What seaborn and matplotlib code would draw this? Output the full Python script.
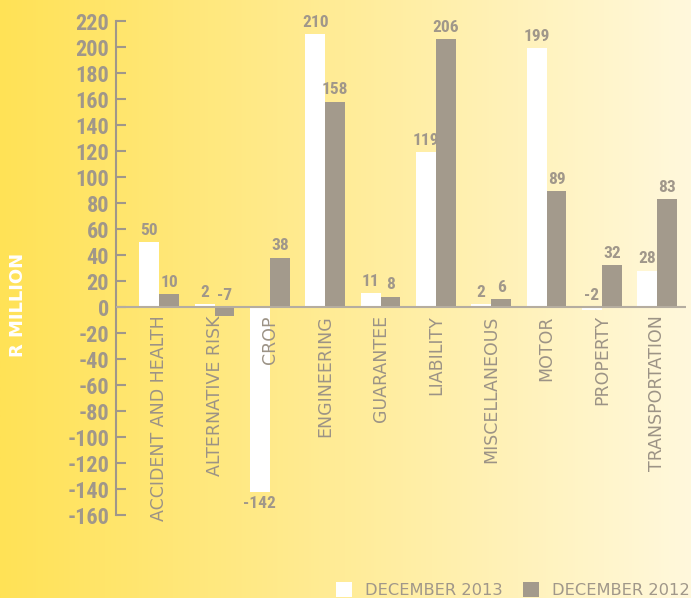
import numpy as np
import pandas as pd
import matplotlib
matplotlib.use("Agg")
import matplotlib.pyplot as plt
import seaborn as sns
from matplotlib.colors import LinearSegmentedColormap
from matplotlib.patches import Patch

# Underwriting results by class of business, R million
categories = ["ACCIDENT AND HEALTH", "ALTERNATIVE RISK", "CROP", "ENGINEERING",
              "GUARANTEE", "LIABILITY", "MISCELLANEOUS", "MOTOR", "PROPERTY",
              "TRANSPORTATION"]
dec_2013 = [50, 2, -142, 210, 11, 119, 2, 199, -2, 28]
dec_2012 = [10, -7, 38, 158, 8, 206, 6, 89, 32, 83]
series = ["DECEMBER 2013", "DECEMBER 2012"]
y_ticks = list(range(-160, 221, 20))

df = pd.DataFrame({
    "category": categories * 2,
    "period": [series[0]] * len(categories) + [series[1]] * len(categories),
    "value": dec_2013 + dec_2012,
})

sns.set_theme(style="white")
plt.rcParams["font.family"] = ["DejaVu Sans"]
plt.rcParams["axes.unicode_minus"] = False

GREY = "#A0978A"
TAUPE = "#A39A8C"
num_font = ["Roboto Condensed", "DejaVu Sans Condensed", "Liberation Sans Narrow",
            "Roboto"]

fig = plt.figure(figsize=(6.91, 5.98), dpi=100)

# warm yellow background, fading to cream on the right
bg = fig.add_axes([0, 0, 1, 1], zorder=-10)
cmap = LinearSegmentedColormap.from_list("warm", ["#FFE256", "#FFEC98", "#FFF8DC"])
bg.imshow(np.linspace(0, 1, 256)[None, :], aspect="auto", cmap=cmap,
          extent=[0, 1, 0, 1])
bg.set_axis_off()

ax = fig.add_axes([116 / 691, 1 - 515 / 598, 570 / 691, 494 / 598])
ax.patch.set_alpha(0)

sns.barplot(data=df, x="category", y="value", hue="period", order=categories,
            hue_order=series, palette=["#FFFFFF", TAUPE], width=0.72,
            saturation=1, legend=False, ax=ax, zorder=2, linewidth=0)

ax.set_xlim(-0.78, 9.52)
ax.set_ylim(-160, 220)
ax.set_yticks(y_ticks)
ax.set_yticklabels([str(t) for t in y_ticks], fontfamily=num_font,
                   fontweight="bold", fontsize=16, color=GREY)
ax.tick_params(axis="y", direction="in", length=7, width=1.5, color=GREY, pad=5,
               left=True)
ax.set_xticks([])
ax.set_xlabel("")
ax.set_ylabel("")
for side in ["top", "right", "bottom"]:
    ax.spines[side].set_visible(False)
ax.spines["left"].set_color(GREY)
ax.spines["left"].set_linewidth(1.5)
ax.axhline(0, color="#B5ADA0", lw=1.5, zorder=3)

# value labels
offsets = [-0.18, 0.18]
for vals, off in zip([dec_2013, dec_2012], offsets):
    for i, v in enumerate(vals):
        if v < -10:
            ax.annotate(str(v), (i + off, v), xytext=(0, -3),
                        textcoords="offset points", ha="center", va="top",
                        fontfamily=num_font, fontweight="bold", fontsize=12.5,
                        color=GREY, annotation_clip=False)
        else:
            ax.annotate(str(v), (i + off, max(v, 0)), xytext=(0, 3),
                        textcoords="offset points", ha="center", va="bottom",
                        fontfamily=num_font, fontweight="bold", fontsize=12.5,
                        color=GREY, annotation_clip=False)

# category names, running upward from just below the zero line
for i, name in enumerate(categories):
    ax.annotate(name, (i, 0), xytext=(0, -6), textcoords="offset points",
                rotation=90, ha="center", va="top", fontsize=12.5,
                color="#9C9386", zorder=4)

fig.text(18 / 691, 1 - 305 / 598, "R MILLION", rotation=90, color="white",
         fontsize=13, fontweight="bold", ha="center", va="center")

handles = [Patch(facecolor="#FFFFFF", edgecolor="none"),
           Patch(facecolor=TAUPE, edgecolor="none")]
leg = fig.legend(handles, series, loc="lower right", ncol=2, frameon=False,
                 bbox_to_anchor=(0.998, 0.0), fontsize=11.7, handlelength=1.0,
                 handleheight=1.1, handletextpad=0.8, columnspacing=1.2,
                 borderaxespad=0.0, borderpad=0.0)
for t in leg.get_texts():
    t.set_color(GREY)

fig.savefig("out.png", dpi=100)
